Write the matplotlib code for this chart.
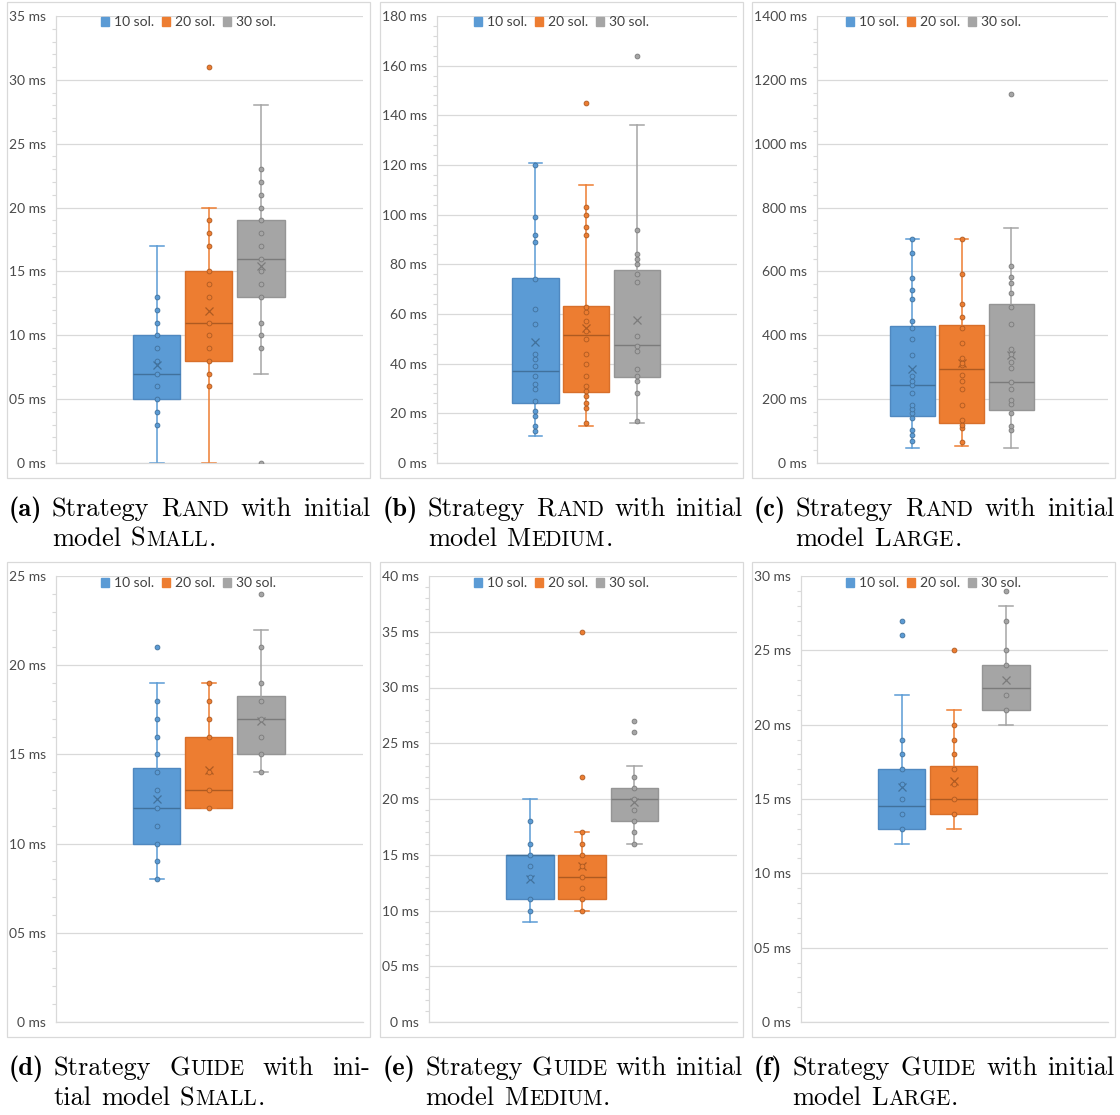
import matplotlib
matplotlib.use('Agg')
import matplotlib.pyplot as plt
from matplotlib.patches import Patch, Rectangle
from matplotlib.ticker import MultipleLocator, FuncFormatter

# --- data -------------------------------------------------------------
series = ['10 sol.', '20 sol.', '30 sol.']

# box statistics per series: (q1, median, q3, whisker low, whisker high, mean)
stats_a = [(5, 7, 10, 0, 17, 7.65), (8, 11, 15, 0, 20, 11.9), (13, 16, 19, 7, 28, 15.4)]
stats_b = [(24, 37, 74.3, 10.9, 120.8, 48.8), (28.4, 51.5, 63.2, 14.9, 112, 54.3),
           (34.5, 47.5, 77.7, 16, 136, 57.4)]
stats_c = [(148, 245, 429, 47, 701, 295), (126, 293, 432, 54, 701, 314),
           (166, 254, 499, 47, 737, 339)]
stats_d = [(10, 12, 14.25, 8, 19, 12.5), (12, 13, 16, 12, 19, 14.1), (15, 17, 18.26, 14, 22, 16.9)]
stats_e = [(11, 15, 15, 9, 20, 12.8), (11, 13, 15, 10, 17, 14), (18, 20, 21, 16, 23, 19.7)]
stats_f = [(13, 14.5, 17, 12, 22, 15.8), (14, 15, 17.24, 13, 21, 16.2), (21, 22.5, 24, 20, 28, 23)]

# single measurements (inner points and outliers)
pts_a = [[3, 4, 5, 6, 7, 8, 9, 10, 11, 12, 13],
         [6, 7, 8, 9, 10, 11, 13, 14, 15, 17, 18, 19, 31],
         [0, 9, 10, 11, 13, 14, 15, 16, 17, 18, 19, 20, 21, 22, 23]]
pts_b = [[13, 15, 19, 21, 25, 30, 32, 35, 39, 42, 44, 56, 62, 74, 89, 92, 99, 120],
         [16, 22, 24, 27, 29, 31, 35, 40, 44, 50, 53, 57, 61, 63, 92, 95, 100, 103, 145],
         [17, 28, 33, 35, 38, 45, 47, 51, 73, 76, 80, 82, 84, 94, 164]]
pts_c = [[70, 87, 104, 140, 157, 170, 183, 218, 243, 258, 273, 339, 388, 423, 446, 515, 543, 579, 657, 701],
         [67, 110, 120, 136, 182, 231, 256, 276, 307, 312, 328, 376, 423, 457, 498, 591, 701],
         [104, 116, 158, 184, 196, 232, 254, 298, 316, 342, 357, 435, 489, 532, 565, 582, 616, 1157]]
pts_d = [[8, 9, 10, 11, 12, 13, 14, 15, 16, 17, 18, 21],
         [12, 13, 14, 16, 17, 18, 19],
         [14, 15, 16, 17, 18, 19, 21, 24]]
pts_e = [[10, 11, 13, 14, 15, 16, 18],
         [10, 11, 12, 13, 14, 15, 16, 17, 22, 35],
         [16, 17, 18, 19, 20, 21, 22, 26, 27]]
pts_f = [[13, 14, 15, 16, 17, 18, 19, 26, 27],
         [14, 15, 16, 17, 18, 19, 20, 25],
         [21, 22, 24, 25, 27, 29]]

# y axis: (max, major step, minor step)
yaxis_a = (35, 5, 1)
yaxis_b = (180, 20, 4)
yaxis_c = (1400, 200, 40)
yaxis_d = (25, 5, 1)
yaxis_e = (40, 5, 1)
yaxis_f = (30, 5, 1)

# captions; words starting with ~ are set in small caps
cap_a = ('(a)', 'Strategy ~Rand with initial', 'model ~Small.')
cap_b = ('(b)', 'Strategy ~Rand with initial', 'model ~Medium.')
cap_c = ('(c)', 'Strategy ~Rand with initial', 'model ~Large.')
cap_d = ('(d)', 'Strategy ~Guide with ini-', 'tial model ~Small.')
cap_e = ('(e)', 'Strategy ~Guide with initial', 'model ~Medium.')
cap_f = ('(f)', 'Strategy ~Guide with initial', 'model ~Large.')

# --- style ------------------------------------------------------------
colors = ['#5B9BD5', '#ED7D31', '#A5A5A5']
dark = ['#41719C', '#AE5A21', '#7B7B7B']
edge = ['#4F88C0', '#D86F2A', '#959595']
GRID = '#D9D9D9'
TXT = '#4A4A4A'
FONT = 'Lato'

W, H = 1120, 1115
fig = plt.figure(figsize=(W / 100, H / 100), dpi=100)
fig.patch.set_facecolor('white')

positions = [0.328, 0.497, 0.667]
BOX_W = 0.155
CAP_W = 0.046


def fig_rect(l, t, r, b):
    return [l / W, 1 - b / H, (r - l) / W, (b - t) / H]


def ms_label(v, _pos):
    v = int(round(v))
    return '0 ms' if v == 0 else f'{v:02d} ms'


def draw_panel(rect, frame, stats, points, yaxis, legend_y):
    fl, ft, fr, fb = frame
    fig.add_artist(Rectangle((fl / W, 1 - fb / H), (fr - fl) / W, (fb - ft) / H,
                             transform=fig.transFigure, fill=False, ec=GRID, lw=0.9))
    ax = fig.add_axes(fig_rect(*rect))
    for i, (q1, med, q3, lo, hi, mean) in enumerate(stats):
        st = [dict(q1=q1, med=med, q3=q3, whislo=lo, whishi=hi, mean=mean, fliers=[])]
        ax.bxp(st, positions=[positions[i]], widths=BOX_W, capwidths=CAP_W,
               patch_artist=True, showmeans=True, showfliers=False, manage_ticks=False,
               boxprops=dict(facecolor=colors[i], edgecolor=edge[i], lw=1.0),
               medianprops=dict(color=dark[i], lw=1.0),
               whiskerprops=dict(color=colors[i], lw=1.1),
               capprops=dict(color=colors[i], lw=1.1),
               meanprops=dict(marker='x', markeredgecolor=dark[i], markersize=6,
                              markeredgewidth=0.9),
               zorder=2)
        ax.scatter([positions[i]] * len(points[i]), points[i], s=12, facecolor=colors[i],
                   edgecolor=dark[i], linewidth=0.6, zorder=3)

    ymax, step, minor = yaxis
    ax.set_xlim(0, 1)
    ax.set_ylim(0, ymax)
    ax.set_xticks([])
    ax.yaxis.set_major_locator(MultipleLocator(step))
    ax.yaxis.set_minor_locator(MultipleLocator(minor))
    ax.yaxis.set_major_formatter(FuncFormatter(ms_label))
    ax.tick_params(axis='y', which='major', length=0, pad=7, labelcolor=TXT, labelsize=10)
    ax.tick_params(axis='y', which='minor', length=3, width=0.8, color=GRID)
    for lab in ax.get_yticklabels():
        lab.set_fontfamily(FONT)
    ax.yaxis.grid(True, color=GRID, lw=0.9)
    ax.set_axisbelow(True)
    for s in ('top', 'right'):
        ax.spines[s].set_visible(False)
    for s in ('left', 'bottom'):
        ax.spines[s].set_color(GRID)
        ax.spines[s].set_linewidth(0.9)

    handles = [Patch(facecolor=c, edgecolor=c) for c in colors]
    ax.legend(handles, series, ncol=3, loc='center',
              bbox_to_anchor=((fl + fr) / 2 / W, 1 - legend_y / H),
              bbox_transform=fig.transFigure, frameon=False,
              handlelength=0.6, handleheight=0.6, handletextpad=0.35,
              columnspacing=0.55, prop=dict(family=FONT, size=10), labelcolor='#404040')
    return ax


# --- caption text with hanging indent, justified first line ---------------
renderer = fig.canvas.get_renderer()
CAP_PT = 19
EM = CAP_PT * 100 / 72
SC = 0.8
KERN = 0.03 * EM
SPACE = 0.36 * EM


def segments(word):
    if not word.startswith('~'):
        return [(word, 1.0)]
    segs = []
    for ch in word[1:]:
        k = SC if ch.islower() else 1.0
        if segs and segs[-1][1] == k:
            segs[-1] = (segs[-1][0] + ch.upper(), k)
        else:
            segs.append((ch.upper(), k))
    return segs


def make_word(word, family):
    texts, widths = [], []
    for s, k in segments(word):
        t = fig.text(0, 0, s, fontfamily=family, fontsize=CAP_PT * k,
                     ha='left', va='baseline', color='black')
        texts.append(t)
        widths.append(t.get_window_extent(renderer).width)
    return texts, widths, sum(widths) + KERN * (len(widths) - 1)


def place_word(word, x, y):
    texts, widths, _ = word
    for t, w in zip(texts, widths):
        t.set_position((x / W, 1 - y / H))
        x += w + KERN


def draw_caption(cap, x0, x1, y1, y2):
    label, line1, line2 = cap
    lab = make_word(label, 'cmb10')
    place_word(lab, x0, y1)
    indent = x0 + lab[2] + SPACE
    words = [make_word(w, 'cmr10') for w in line1.split()]
    gap = (x1 - indent - sum(w[2] for w in words)) / (len(words) - 1)
    gap = max(gap, 0.6 * SPACE)
    x = indent
    for w in words:
        place_word(w, x, y1)
        x += w[2] + gap
    x = indent
    for w in [make_word(w, 'cmr10') for w in line2.split()]:
        place_word(w, x, y2)
        x += w[2] + SPACE


# --- panels -------------------------------------------------------------
draw_panel((56, 16, 363, 463), (7, 2, 370, 478), stats_a, pts_a, yaxis_a, 22)
draw_panel((437, 16, 737, 463), (380, 2, 743, 478), stats_b, pts_b, yaxis_b, 22)
draw_panel((817, 16, 1108, 463), (752, 2, 1115, 478), stats_c, pts_c, yaxis_c, 22)
draw_panel((56, 576, 363, 1022), (7, 562, 370, 1037), stats_d, pts_d, yaxis_d, 583)
draw_panel((429, 576, 737, 1022), (380, 562, 743, 1037), stats_e, pts_e, yaxis_e, 583)
draw_panel((801, 576, 1108, 1022), (752, 562, 1115, 1037), stats_f, pts_f, yaxis_f, 583)

draw_caption(cap_a, 9, 370, 516, 546)
draw_caption(cap_b, 383, 743, 516, 546)
draw_caption(cap_c, 754, 1115, 516, 546)
draw_caption(cap_d, 9, 370, 1075, 1105)
draw_caption(cap_e, 383, 743, 1075, 1105)
draw_caption(cap_f, 754, 1115, 1075, 1105)

fig.savefig('out.png', dpi=100)
